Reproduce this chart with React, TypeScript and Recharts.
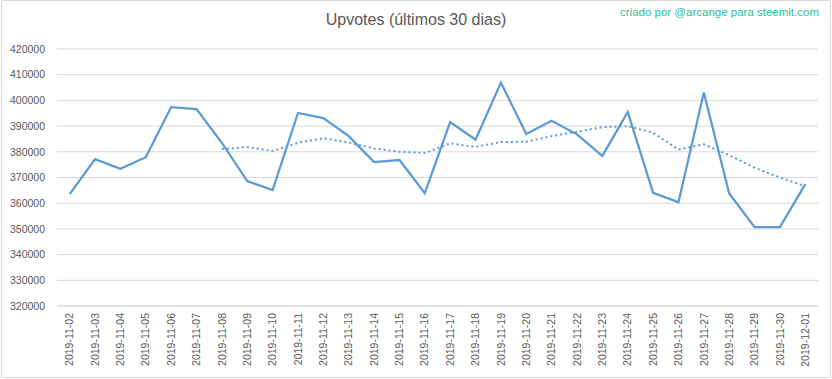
import { LineChart, Line, XAxis, YAxis, CartesianGrid } from 'recharts';

const dates = [
  '2019-11-02', '2019-11-03', '2019-11-04', '2019-11-05', '2019-11-06', '2019-11-07',
  '2019-11-08', '2019-11-09', '2019-11-10', '2019-11-11', '2019-11-12', '2019-11-13',
  '2019-11-14', '2019-11-15', '2019-11-16', '2019-11-17', '2019-11-18', '2019-11-19',
  '2019-11-20', '2019-11-21', '2019-11-22', '2019-11-23', '2019-11-24', '2019-11-25',
  '2019-11-26', '2019-11-27', '2019-11-28', '2019-11-29', '2019-11-30', '2019-12-01',
];

const upvotes = [
  363500, 377150, 373400, 377900, 397400, 396600,
  383500, 368600, 365100, 395100, 393100, 386100,
  376000, 376800, 363900, 391600, 384700, 406900,
  386900, 392100, 386800, 378400, 395500, 364000,
  360400, 403100, 363800, 350700, 350700, 367400,
];

// dotted moving-average trend
const trend = [
  null, null, null, null, null, null,
  381000, 381900, 380300, 383500, 385300, 383600,
  381300, 380000, 379500, 383300, 381900, 383800,
  383900, 386100, 387800, 389600, 390000, 387400,
  380900, 382900, 378700, 373800, 370000, 366600,
];

const yTicks = [320000, 330000, 340000, 350000, 360000, 370000, 380000, 390000, 400000, 410000, 420000];

const chartData = dates.map((date, i) => ({ date, value: upvotes[i], trend: trend[i] }));

const FONT = '"Liberation Sans", Arial, sans-serif';
const BLUE = '#5b9bd5';

function DateTick({ x, y, payload }: any) {
  return (
    <text
      x={x}
      y={y}
      dy="0.35em"
      textAnchor="end"
      transform={`rotate(-90, ${x}, ${y})`}
      fill="#595959"
      fontSize={10.5}
      fontFamily={FONT}
    >
      {payload.value}
    </text>
  );
}

export default function App() {
  return (
    <div
      style={{
        position: 'fixed',
        left: 0,
        top: 0,
        width: 832,
        height: 379,
        background: '#fff',
        fontFamily: FONT,
      }}
    >
      <div
        style={{
          position: 'absolute',
          left: 1,
          top: 0,
          width: 828,
          height: 376,
          border: '1px solid #d9d9d9',
          borderRadius: 2,
        }}
      />
      <div
        style={{
          position: 'absolute',
          left: 0,
          width: 832,
          top: 11,
          textAlign: 'center',
          fontSize: 16,
          color: '#595959',
        }}
      >
        Upvotes (últimos 30 dias)
      </div>
      <div
        style={{
          position: 'absolute',
          right: 13,
          top: 6,
          fontSize: 11.5,
          color: '#1fbf9f',
        }}
      >
        criado por @arcange para steemit.com
      </div>
      <div style={{ position: 'absolute', left: 0, top: 0 }}>
        <LineChart
          width={832}
          height={379}
          data={chartData}
          margin={{ top: 49, right: 14, bottom: 0, left: 0 }}
        >
          <CartesianGrid vertical={false} stroke="#d9d9d9" />
          <XAxis
            dataKey="date"
            interval={0}
            height={73}
            tick={<DateTick />}
            tickLine={false}
            tickSize={0}
            tickMargin={7}
            axisLine={{ stroke: '#d9d9d9' }}
            padding={{ left: 12.7, right: 12.7 }}
          />
          <YAxis
            width={57}
            domain={[320000, 420000]}
            ticks={yTicks}
            interval={0}
            axisLine={false}
            tickLine={false}
            tickMargin={6}
            tick={{ fill: '#595959', fontSize: 10.5, fontFamily: FONT }}
          />
          <Line
            type="linear"
            dataKey="value"
            stroke={BLUE}
            strokeWidth={2.25}
            dot={false}
            isAnimationActive={false}
          />
          <Line
            type="linear"
            dataKey="trend"
            stroke={BLUE}
            strokeWidth={2}
            strokeDasharray="2 3"
            dot={false}
            isAnimationActive={false}
          />
        </LineChart>
      </div>
    </div>
  );
}
